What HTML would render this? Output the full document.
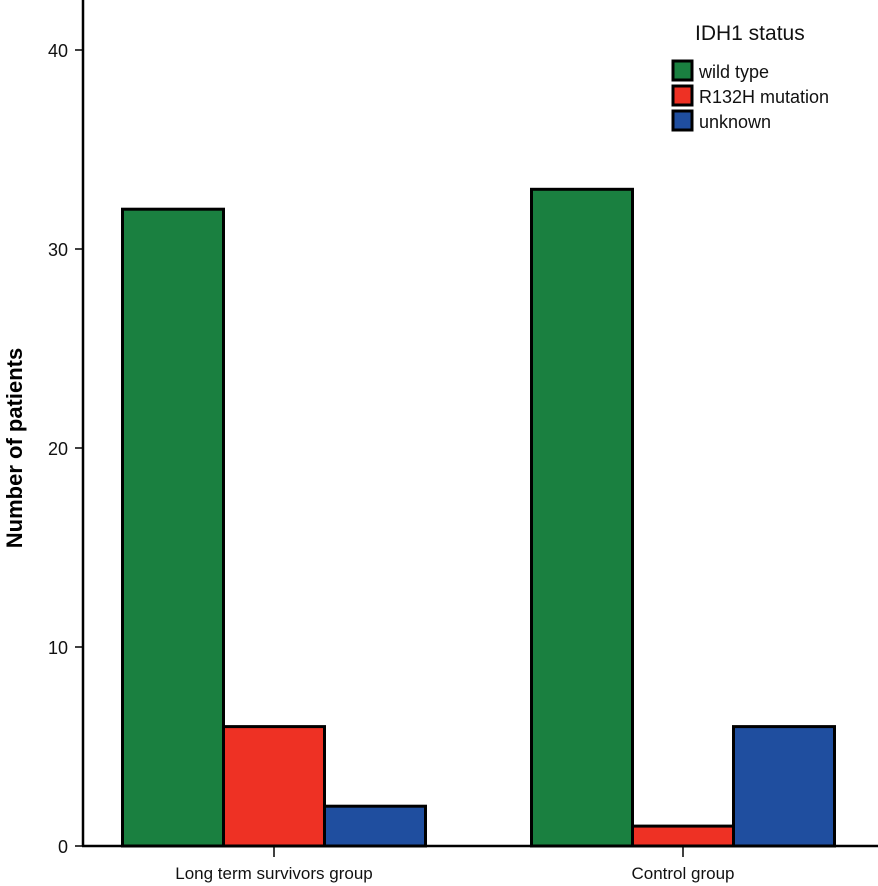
<!DOCTYPE html>
<html><head><meta charset="utf-8"><style>
body{margin:0;background:#fff}
svg{display:block;font-family:"Liberation Sans",Arial,sans-serif}
</style></head><body>
<svg id="chart" width="878" height="886"></svg>
<script>
const categories=["Long term survivors group","Control group"];
const seriesNames=["wild type","R132H mutation","unknown"];
const wildType=[32,33];
const r132h=[6,1];
const unknown=[2,6];
const yTicks=[0,10,20,30,40];
const colors=["#1a8040","#ee3124","#1f4e9f"];
const NS="http://www.w3.org/2000/svg";
const svg=document.getElementById('chart');
function y(v){return 846-v*19.9;}
const groupCenters=[274,683];
const barW=101;
function x(gi,si){return groupCenters[gi]+(si-1.5)*barW;}
function mk(t,a,txt){const e=document.createElementNS(NS,t);for(const k in a)e.setAttribute(k,a[k]);if(txt!==undefined)e.textContent=txt;svg.appendChild(e);return e;}
const series=[wildType,r132h,unknown];
series.forEach((vals,si)=>{vals.forEach((v,gi)=>{
 const r=mk('rect',{x:x(gi,si),y:y(v),width:barW,height:846-y(v),fill:colors[si],stroke:'#000','stroke-width':3});
 
 
});});
let a=mk('line',{x1:83,y1:0,x2:83,y2:846,stroke:'#000','stroke-width':2.5});


a=mk('line',{x1:82,y1:846,x2:878,y2:846,stroke:'#000','stroke-width':2.5});


yTicks.forEach(t=>{
 mk('line',{x1:75,y1:y(t),x2:83,y2:y(t),stroke:'#000','stroke-width':1.5});
 const l=mk('text',{x:68,y:y(t)+7,'text-anchor':'end','font-size':18,fill:'#111'},t);
 
 
});
categories.forEach((c,gi)=>{
 mk('line',{x1:groupCenters[gi],y1:846,x2:groupCenters[gi],y2:857,stroke:'#000','stroke-width':1.5});
 const l=mk('text',{x:groupCenters[gi],y:879,'text-anchor':'middle','font-size':17,fill:'#111'},c);
 
 
});
let t=mk('text',{x:0,y:0,'text-anchor':'middle','font-size':22,'font-weight':'bold',transform:'translate(22,448) rotate(-90)'},'Number of patients');


t=mk('text',{x:695,y:40,'font-size':21,fill:'#111'},'IDH1  status');


seriesNames.forEach((n,i)=>{
 const yy=61+i*25;
 const r=mk('rect',{x:673,y:yy,width:19,height:19,fill:colors[i],stroke:'#000','stroke-width':3});
 
 
 const l=mk('text',{x:699,y:yy+17,'font-size':18,fill:'#111'},n);
 
 
});
</script>
</body></html>
